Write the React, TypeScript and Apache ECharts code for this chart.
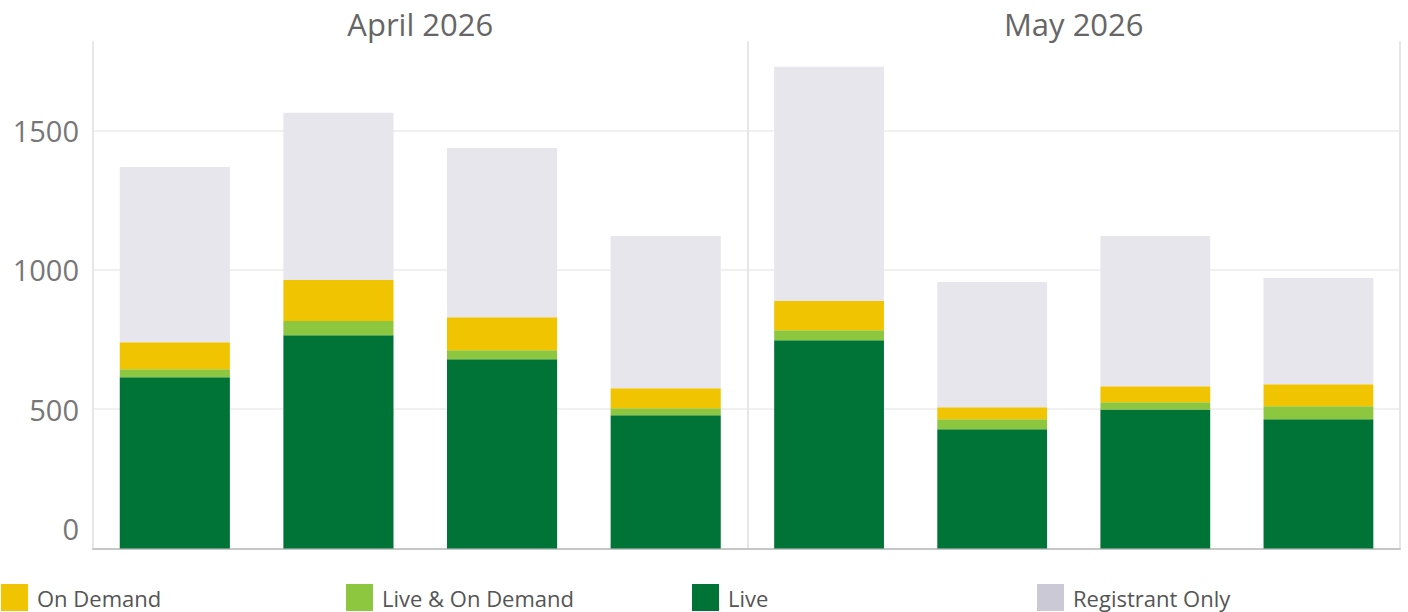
import React, { useEffect, useRef } from "react";
import * as echarts from "echarts";

// ---- data ----
const months = ["April 2026", "May 2026"];
const weeks = ["Week 1", "Week 2", "Week 3", "Week 4"];

const liveApr = [614, 765, 679, 478];
const liveMay = [747, 428, 499, 464];
const liveOnDemandApr = [29, 51, 32, 25];
const liveOnDemandMay = [36, 36, 26, 46];
const onDemandApr = [97, 147, 119, 72];
const onDemandMay = [105, 43, 57, 79];
const registrantOnlyApr = [629, 600, 607, 546];
const registrantOnlyMay = [840, 449, 539, 381];

const yMin = 0;
const yMax = 1817;
const yInterval = 500;

const seriesNames = ["Live", "Live & On Demand", "On Demand", "Registrant Only"];
const seriesColors: Record<string, string> = {
  Live: "#007337",
  "Live & On Demand": "#8dc63f",
  "On Demand": "#f0c400",
  "Registrant Only": "#e7e6ed",
};
const legendOrder = ["On Demand", "Live & On Demand", "Live", "Registrant Only"];
const legendColors: Record<string, string> = {
  Live: "#007337",
  "Live & On Demand": "#8dc63f",
  "On Demand": "#f0c400",
  "Registrant Only": "#cbc9d5",
};
const legendLeft = [1, 346, 692, 1037];

const panelData: Record<string, number[]>[] = [
  {
    Live: liveApr,
    "Live & On Demand": liveOnDemandApr,
    "On Demand": onDemandApr,
    "Registrant Only": registrantOnlyApr,
  },
  {
    Live: liveMay,
    "Live & On Demand": liveOnDemandMay,
    "On Demand": onDemandMay,
    "Registrant Only": registrantOnlyMay,
  },
];

const FONT = "'Open Sans', sans-serif";

export default function App() {
  const ref = useRef<HTMLDivElement>(null);

  useEffect(() => {
    if (!ref.current) return;
    const chart = echarts.init(ref.current, undefined, { renderer: "svg" });

    const grids = [
      { left: 93, top: 42, width: 654.5, height: 506.5 },
      { left: 747.5, top: 42, width: 652.5, height: 506.5 },
    ];

    const xAxes = grids.map((_, i) => ({
      type: "category",
      gridIndex: i,
      data: weeks,
      axisLine: { show: true, lineStyle: { color: "#c6c6c6", width: 2 } },
      axisTick: { show: false },
      axisLabel: { show: false },
      splitLine: { show: false },
    }));

    const yAxes: any[] = grids.map((_, i) => ({
      type: "value",
      gridIndex: i,
      min: yMin,
      max: yMax,
      interval: yInterval,
      axisLine: { show: true, lineStyle: { color: "#e6e6e6", width: 2 } },
      axisTick: { show: false },
      axisLabel: {
        show: i === 0,
        showMaxLabel: false,
        fontFamily: FONT,
        fontSize: 29,
        color: "#777777",
        margin: 14,
        formatter: (v: number) => (v === 0 ? "{z|0}" : String(v)),
        rich: {
          z: { fontFamily: FONT, fontSize: 29, color: "#777777", padding: [0, 0, 40, 0] },
        },
      },
      splitLine: {
        show: true,
        showMaxLine: false,
        lineStyle: { color: "#f0f0f0", width: 2 },
      },
    }));
    // right border of the May panel
    yAxes.push({
      type: "value",
      gridIndex: 1,
      position: "right",
      min: yMin,
      max: yMax,
      interval: yInterval,
      axisLine: { show: true, lineStyle: { color: "#e6e6e6", width: 2 } },
      axisTick: { show: false },
      axisLabel: { show: false },
      splitLine: { show: false },
    });

    const series: any[] = [];
    panelData.forEach((pd, gi) => {
      seriesNames.forEach((name) => {
        series.push({
          type: "bar",
          name,
          stack: "total" + gi,
          xAxisIndex: gi,
          yAxisIndex: gi,
          barWidth: "67.3%",
          itemStyle: { color: seriesColors[name] },
          data: pd[name],
        });
      });
    });

    const titles = months.map((m, i) => ({
      text: m,
      left: grids[i].left + grids[i].width / 2,
      textAlign: "center",
      top: 8,
      padding: 0,
      textStyle: { fontFamily: FONT, fontSize: 31, fontWeight: "normal", color: "#666666" },
    }));

    const legends = legendOrder.map((name, i) => ({
      left: legendLeft[i],
      top: 584,
      padding: 0,
      icon: "rect",
      itemWidth: 27,
      itemHeight: 27,
      selectedMode: false,
      data: [{ name, itemStyle: { color: legendColors[name] } }],
      textStyle: { fontFamily: FONT, fontSize: 22, color: "#555555", padding: [0, 0, 0, 4] },
    }));

    chart.setOption({
      animation: false,
      backgroundColor: "#ffffff",
      title: titles,
      legend: legends,
      grid: grids,
      xAxis: xAxes,
      yAxis: yAxes,
      series,
    });

    return () => chart.dispose();
  }, []);

  return (
    <div
      ref={ref}
      style={{ position: "fixed", left: 0, top: 0, width: 1408, height: 612, background: "#fff" }}
    />
  );
}
